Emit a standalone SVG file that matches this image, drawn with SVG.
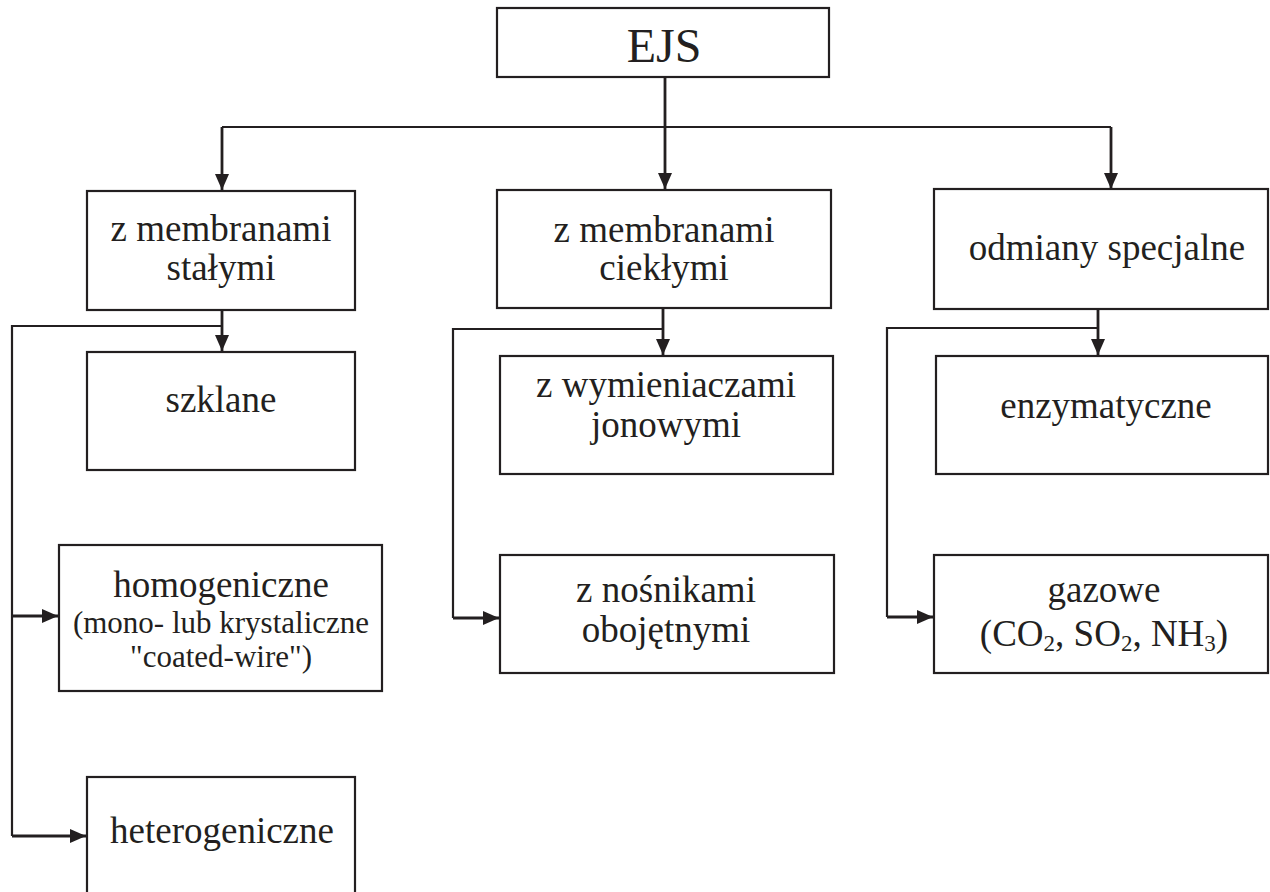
<svg xmlns="http://www.w3.org/2000/svg" width="1270" height="892" viewBox="0 0 1270 892">
<defs>
<style>
.box{fill:#fff;stroke:#231f20;stroke-width:2.2}
.t{font-family:"Liberation Serif","Times New Roman",serif;font-size:37px;fill:#231f20;text-anchor:middle}
.s{font-size:31px}
.c{fill:none;stroke:#231f20;stroke-width:2.2}
.a{fill:none;stroke:#231f20;stroke-width:2.8}
</style>
<marker id="ah" markerUnits="userSpaceOnUse" markerWidth="18" markerHeight="14" refX="16" refY="7" orient="auto">
<path d="M0,0 L16,7 L0,14 Z" fill="#231f20"/>
</marker>
</defs>
<g id="connectors">
<path class="a" d="M665,78 V189" marker-end="url(#ah)"/>
<path class="c" d="M222,127 H1111"/>
<path class="a" d="M222,127 V190" marker-end="url(#ah)"/>
<path class="a" d="M1111,127 V189" marker-end="url(#ah)"/>
<path class="a" d="M222,311 V351" marker-end="url(#ah)"/>
<path class="c" d="M222,326 H12 V836"/>
<path class="a" d="M12,616 H58" marker-end="url(#ah)"/>
<path class="a" d="M12,836 H86" marker-end="url(#ah)"/>
<path class="a" d="M663,309 V355" marker-end="url(#ah)"/>
<path class="c" d="M663,329 H453 V618"/>
<path class="a" d="M453,618 H499" marker-end="url(#ah)"/>
<path class="a" d="M1098,310 V355" marker-end="url(#ah)"/>
<path class="c" d="M1098,328 H887 V617"/>
<path class="a" d="M887,617 H933" marker-end="url(#ah)"/>
</g>
<g id="n-ejs"><rect class="box" x="497" y="8" width="332" height="69"/><text class="t" x="664" y="62" style="font-size:48px">EJS</text></g>
<g id="n-stale"><rect class="box" x="87" y="191" width="268" height="119"/><text class="t" x="221" y="241">z membranami</text><text class="t" x="221" y="280">stałymi</text></g>
<g id="n-ciekle"><rect class="box" x="497" y="190" width="334" height="118"/><text class="t" x="664" y="242">z membranami</text><text class="t" x="664" y="280">ciekłymi</text></g>
<g id="n-specjalne"><rect class="box" x="934" y="189" width="334" height="120"/><text class="t" x="1107" y="260">odmiany specjalne</text></g>
<g id="n-szklane"><rect class="box" x="87" y="352" width="268" height="118"/><text class="t" x="221" y="412">szklane</text></g>
<g id="n-homo"><rect class="box" x="59" y="545" width="323" height="146"/><text class="t" x="221" y="597">homogeniczne</text><text class="t s" x="221" y="633">(mono- lub krystaliczne</text><text class="t s" x="221" y="667">"coated-wire")</text></g>
<g id="n-hetero"><rect class="box" x="87" y="777" width="268" height="130"/><text class="t" x="222" y="843">heterogeniczne</text></g>
<g id="n-wymien"><rect class="box" x="500" y="356" width="333" height="118"/><text class="t" x="666" y="397">z wymieniaczami</text><text class="t" x="666" y="437">jonowymi</text></g>
<g id="n-nosniki"><rect class="box" x="500" y="555" width="334" height="118"/><text class="t" x="666" y="602">z nośnikami</text><text class="t" x="666" y="642">obojętnymi</text></g>
<g id="n-enzym"><rect class="box" x="936" y="356" width="332" height="118"/><text class="t" x="1106" y="418">enzymatyczne</text></g>
<g id="n-gaz"><rect class="box" x="934" y="555" width="334" height="118"/><text class="t" x="1104" y="602">gazowe</text><text class="t" x="1104" y="646">(CO<tspan font-size="23" dy="5">2</tspan><tspan dy="-5">, SO</tspan><tspan font-size="23" dy="5">2</tspan><tspan dy="-5">, NH</tspan><tspan font-size="23" dy="5">3</tspan><tspan dy="-5">)</tspan></text></g>
</svg>
